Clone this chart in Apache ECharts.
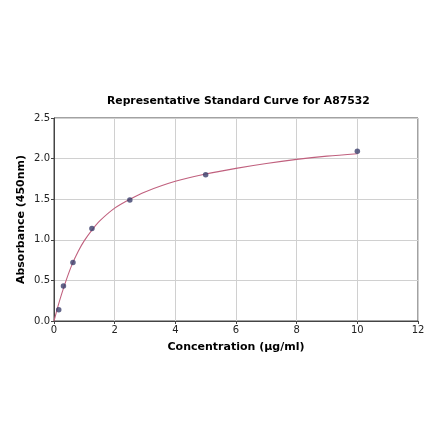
<!DOCTYPE html>
<html lang="en">
  <head>
    <meta charset="UTF-8" />
    <title>Standard Curve</title>
    <script src="https://cdn.jsdelivr.net/npm/echarts@6/dist/echarts.min.js"></script>
    <style>
      html, body { margin: 0; padding: 0; background: #fff; }
      #main { width: 440px; height: 441px; }
    </style>
  </head>
  <body>
    <div id="main"></div>
    <script>
      // measured standards
      const concentration = [0.156, 0.312, 0.625, 1.25, 2.5, 5, 10];
      const absorbance = [0.14, 0.43, 0.72, 1.14, 1.49, 1.8, 2.09];

      // fitted curve
      const curveX = [0, 0.1, 0.2, 0.4, 0.6, 0.8, 1.0, 1.25, 1.5, 2, 2.5, 3, 4, 5, 6, 7, 8, 9, 10];
      const curveY = [0, 0.14, 0.27, 0.5, 0.7, 0.86, 0.99, 1.12, 1.23, 1.39, 1.5, 1.59, 1.72, 1.81, 1.88, 1.94, 1.99, 2.03, 2.06];

      const xTicks = [0, 12, 2];
      const yTicks = [0, 2.5, 0.5];

      const chart = echarts.init(document.getElementById("main"));
      const font = "DejaVu Sans";

      const option = {
        animation: false,
        title: {
          text: "Representative Standard Curve for A87532",
          left: 102,
          top: 91,
          textStyle: { fontFamily: font, fontSize: 10.8, fontWeight: "bold", color: "#000" },
        },
        grid: {
          left: 54,
          right: 22,
          top: 118,
          bottom: 120,
          show: true,
          borderColor: "#444",
          borderWidth: 1,
        },
        xAxis: {
          type: "value",
          min: xTicks[0],
          max: xTicks[1],
          interval: xTicks[2],
          name: "Concentration (μg/ml)",
          nameLocation: "middle",
          nameGap: 21,
          nameTextStyle: { fontFamily: font, fontSize: 11, fontWeight: "bold", color: "#000" },
          axisLine: { lineStyle: { color: "#444" } },
          axisTick: { length: 3, lineStyle: { color: "#444" } },
          axisLabel: { fontFamily: font, fontSize: 10, color: "#222", margin: 4 },
          splitLine: { lineStyle: { color: "#d0d0d0" } },
        },
        yAxis: {
          type: "value",
          min: yTicks[0],
          max: yTicks[1],
          interval: yTicks[2],
          name: "Absorbance (450nm)",
          nameLocation: "middle",
          nameGap: 27,
          nameMoveOverlap: false,
          nameTextStyle: { fontFamily: font, fontSize: 11, fontWeight: "bold", color: "#000" },
          axisLine: { show: true, lineStyle: { color: "#444" } },
          axisTick: { show: true, length: 3, lineStyle: { color: "#444" } },
          axisLabel: {
            fontFamily: font,
            fontSize: 10,
            color: "#222",
            margin: 4,
            formatter: (v) => v.toFixed(1),
          },
          splitLine: { lineStyle: { color: "#d0d0d0" } },
        },
        series: [
          {
            type: "line",
            data: curveX.map((x, i) => [x, curveY[i]]),
            smooth: 0.3,
            showSymbol: false,
            lineStyle: { color: "#c0607e", width: 1.1 },
            z: 2,
          },
          {
            type: "scatter",
            data: concentration.map((x, i) => [x, absorbance[i]]),
            symbolSize: 5.5,
            itemStyle: { color: "#3b3f6b" },
            z: 3,
          },
        ],
      };

      option && chart.setOption(option);
    </script>
  </body>
</html>
